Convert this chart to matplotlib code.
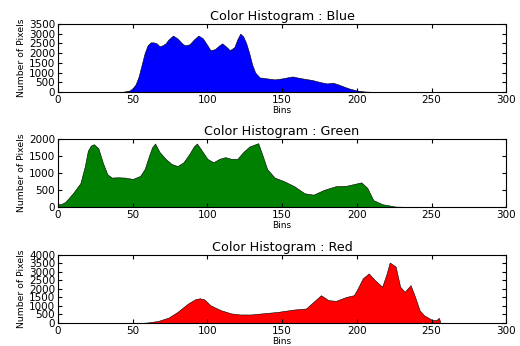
import matplotlib
matplotlib.use('Agg')
import matplotlib.pyplot as plt

# bins and pixel counts
blue_bins = [0, 40, 44, 48, 50, 52, 54, 56, 58, 60, 62, 64, 66, 68, 70, 72, 74, 77, 80, 83, 85,
             88, 91, 94, 97, 100, 102, 105, 108, 110, 113, 115, 118, 120, 122, 124, 126, 128,
             130, 132, 135, 140, 145, 150, 154, 157, 160, 165, 170, 175, 180, 184, 188, 192,
             195, 198, 200, 205, 210, 215, 255]
blue_vals = [0, 0, 20, 80, 200, 400, 800, 1400, 2000, 2400, 2550, 2550, 2500, 2350, 2400, 2500,
             2700, 2900, 2750, 2500, 2400, 2450, 2700, 2900, 2750, 2400, 2150, 2200, 2400, 2500,
             2300, 2150, 2300, 2700, 3000, 2850, 2500, 2000, 1400, 1000, 750, 700, 650, 700,
             760, 800, 750, 680, 620, 520, 440, 480, 380, 260, 180, 120, 80, 30, 10, 0, 0]

green_bins = [0, 2, 5, 10, 15, 18, 20, 22, 24, 27, 30, 33, 36, 40, 45, 50, 55, 58, 61, 63, 65,
              68, 72, 76, 80, 84, 88, 91, 93, 96, 100, 104, 108, 112, 116, 120, 124, 128, 131,
              134, 137, 140, 145, 151, 158, 165, 171, 178, 186, 193, 198, 203, 207, 211, 217,
              226, 235, 255]
green_vals = [80, 80, 150, 400, 700, 1200, 1650, 1800, 1840, 1720, 1300, 960, 860, 870, 860,
              820, 910, 1110, 1510, 1750, 1860, 1610, 1410, 1260, 1200, 1310, 1560, 1780, 1860,
              1670, 1410, 1310, 1410, 1460, 1410, 1410, 1610, 1770, 1820, 1870, 1500, 1110,
              860, 760, 610, 400, 360, 500, 610, 620, 670, 720, 560, 200, 80, 10, 0, 0]

red_bins = [0, 55, 60, 67, 74, 80, 87, 92, 95, 98, 102, 109, 116, 122, 129, 135, 147, 158, 166,
            171, 176, 181, 186, 193, 198, 200, 204, 208, 212, 217, 220, 222, 226, 229, 232,
            236, 239, 242, 245, 250, 253, 255, 256]
red_vals = [0, 0, 30, 120, 315, 650, 1140, 1400, 1450, 1380, 1040, 750, 560, 500, 500, 550,
            650, 790, 850, 1240, 1630, 1340, 1300, 1530, 1630, 1930, 2620, 2910, 2520, 2130,
            2910, 3550, 3310, 2130, 1830, 2220, 1530, 750, 450, 200, 160, 300, 0]

channels = [('Blue', blue_bins, blue_vals, 'blue', 3500),
            ('Green', green_bins, green_vals, 'green', 2000),
            ('Red', red_bins, red_vals, 'red', 4000)]

fig = plt.figure(figsize=(5.2, 3.46), dpi=100, facecolor='white')
bottoms = [0.734, 0.402, 0.0665]

for (name, bins, vals, col, ymax), b in zip(channels, bottoms):
    ax = fig.add_axes([0.1115, b, 0.862, 0.197])
    ax.fill_between(bins, vals, 0, facecolor=col, edgecolor='black', linewidth=0.4)
    ax.set_xlim(0, 300)
    ax.set_ylim(0, ymax)
    ax.set_yticks(range(0, ymax + 1, 500))
    ax.set_xticks(range(0, 301, 50))
    ax.tick_params(direction='in', top=True, right=True, labelsize=7.5, length=3, pad=2)
    ax.set_title('Color Histogram : ' + name, fontsize=9.2, pad=3)
    ax.set_xlabel('Bins', fontsize=6.5, labelpad=1)
    ax.set_ylabel('Number of Pixels', fontsize=6.7, labelpad=2)

fig.savefig('out.png', dpi=100, facecolor='white')
